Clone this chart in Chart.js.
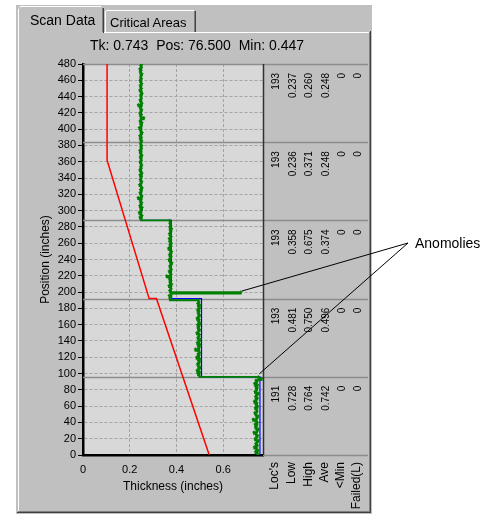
<!DOCTYPE html>
<html>
<head>
<meta charset="utf-8">
<script src="https://cdn.jsdelivr.net/npm/chart.js@4.4.1/dist/chart.umd.min.js"></script>
<style>
  html, body { margin: 0; padding: 0; background: #fff; }
  #wrap { position: relative; width: 480px; height: 516px; overflow: hidden;
          font-family: 'Liberation Sans', Arial, sans-serif; }
  #c { position: absolute; left: 0; top: 0; }
  .lbl { position: absolute; white-space: nowrap; line-height: 1; color: #000; }
</style>
</head>
<body>
<div id="wrap">
  <canvas id="c" width="480" height="516"></canvas>
  <span class="lbl" style="left:30px;top:13px;font-size:14px;">Scan Data</span>
  <span class="lbl" style="left:110px;top:16px;font-size:13px;">Critical Areas</span>
  <span class="lbl" style="left:90px;top:38px;font-size:14px;">Tk: 0.743&nbsp; Pos: 76.500&nbsp; Min: 0.447</span>
  <span class="lbl" style="left:415px;top:236px;font-size:14px;">Anomolies</span>
</div>
<script>
// Scan sampling: one reading every 2 inches inside each zone
const SAMPLE_STEP = 2;
const zoneStarts = [0, 96, 192, 288, 384];
const zoneEnds   = [96, 192, 288, 384, 480];

// Measured wall thickness (inches), one list per zone
const zoneA = [
  0.752,0.745,0.738,0.748,0.741,0.733,0.746,0.739,
  0.744,0.750,0.736,0.742,0.747,0.740,0.731,0.745,
  0.749,0.738,0.743,0.736,0.746,0.741,0.728,0.744,
  0.748,0.739,0.735,0.745,0.742,0.737,0.747,0.740,
  0.744,0.733,0.741,0.746,0.738,0.743,0.750,0.736,
  0.742,0.745,0.739,0.747,0.734,0.744,0.740,0.764];
const zoneB = [
  0.750,0.497,0.492,0.499,0.488,0.495,0.501,0.493,
  0.490,0.498,0.494,0.500,0.486,0.496,0.492,0.499,
  0.495,0.481,0.497,0.493,0.500,0.489,0.496,0.502,
  0.491,0.495,0.498,0.487,0.494,0.499,0.492,0.496,
  0.490,0.501,0.494,0.497,0.488,0.495,0.499,0.493,
  0.496,0.490,0.498,0.494,0.500,0.491,0.496,0.493];
const zoneC = [
  0.372,0.376,0.369,0.378,0.675,0.371,0.377,0.374,
  0.368,0.379,0.372,0.376,0.370,0.375,0.358,0.377,
  0.373,0.369,0.378,0.374,0.371,0.376,0.380,0.372,
  0.368,0.375,0.377,0.370,0.374,0.379,0.373,0.366,
  0.376,0.372,0.378,0.371,0.375,0.369,0.377,0.374,
  0.370,0.376,0.373,0.379,0.371,0.375,0.372,0.374];
const zoneD = [
  0.371,0.249,0.244,0.252,0.246,0.241,0.250,0.247,
  0.253,0.243,0.248,0.251,0.245,0.249,0.236,0.252,
  0.247,0.244,0.250,0.246,0.253,0.248,0.242,0.249,
  0.251,0.245,0.247,0.250,0.244,0.252,0.248,0.243,
  0.249,0.246,0.251,0.247,0.244,0.250,0.248,0.245,
  0.252,0.246,0.249,0.243,0.250,0.247,0.251,0.246];
const zoneE = [
  0.248,0.251,0.245,0.250,0.243,0.249,0.253,0.246,
  0.248,0.241,0.250,0.247,0.252,0.244,0.249,0.260,
  0.246,0.250,0.243,0.248,0.251,0.245,0.249,0.237,
  0.252,0.247,0.244,0.250,0.248,0.246,0.253,0.249,
  0.243,0.250,0.247,0.245,0.251,0.248,0.244,0.250,
  0.246,0.249,0.252,0.245,0.248,0.243,0.250,0.247,
  0.251];
const zoneReadings = [zoneA, zoneB, zoneC, zoneD, zoneE];

// Nominal (filtered) thickness trace
const nominalPos = [0, 96, 96, 192, 192, 288, 288, 480];
const nominalThk = [0.757, 0.757, 0.507, 0.507, 0.378, 0.378, 0.250, 0.250];

// Minimum allowed thickness trace
const minPos = [0, 192, 192, 362, 480];
const minThk = [0.540, 0.314, 0.283, 0.103, 0.103];

// Flagged readings (position, thickness)
const anomalyPos = [200, 96];
const anomalyThk = [0.675, 0.750];

// Zone statistics, bottom zone first
const statLocs   = ['191', '193', '193', '193', '193'];
const statLow    = ['0.728', '0.481', '0.358', '0.236', '0.237'];
const statHigh   = ['0.764', '0.750', '0.675', '0.371', '0.260'];
const statAve    = ['0.742', '0.496', '0.374', '0.248', '0.248'];
const statBelow  = ['0', '0', '0', '0', '0'];
const statFailed = ['0', '0', '0', '0', '0'];
const statHeaders = ["Loc's", 'Low', 'High', 'Ave', '<Min', 'Failed(L)'];

// Axis ranges and tick steps
const thkMin = 0, thkMax = 0.77, thkStep = 0.2;
const posMin = 0, posMax = 480, posStep = 20;

const FONT = "'Liberation Sans', Arial, sans-serif";

// Build point lists
const scanPoints = [];
zoneReadings.forEach((vals, z) => {
  vals.forEach((t, i) => scanPoints.push({ x: t, y: zoneStarts[z] + i * SAMPLE_STEP }));
});
const nominalPoints = nominalPos.map((p, i) => ({ x: nominalThk[i], y: p }));
const minPoints = minPos.map((p, i) => ({ x: minThk[i], y: p }));

// Window / tab-page frame behind the plot
const framePlugin = {
  id: 'frame',
  beforeDraw(chart) {
    const ctx = chart.ctx;
    const a = chart.chartArea;
    ctx.save();
    ctx.fillStyle = '#ffffff';
    ctx.fillRect(0, 0, 480, 516);
    ctx.fillStyle = '#c0c0c0';
    ctx.fillRect(16, 5, 356, 509);

    const line = (x1, y1, x2, y2, c) => {
      ctx.strokeStyle = c; ctx.lineWidth = 1;
      ctx.beginPath(); ctx.moveTo(x1, y1); ctx.lineTo(x2, y2); ctx.stroke();
    };
    // page borders
    line(104, 32.5, 369, 32.5, '#ffffff');
    line(18.5, 33, 18.5, 511, '#ffffff');
    line(369.5, 32, 369.5, 512, '#808080');
    line(370.5, 31, 370.5, 513, '#404040');
    line(18, 511.5, 370, 511.5, '#808080');
    line(17, 512.5, 371, 512.5, '#404040');
    // inactive tab
    line(105.5, 11, 105.5, 32, '#ffffff');
    line(106, 10.5, 194, 10.5, '#ffffff');
    line(194.5, 11, 194.5, 32, '#808080');
    line(195.5, 11, 195.5, 32, '#404040');
    // active tab
    line(18.5, 33, 18.5, 9, '#ffffff');
    line(19, 8.5, 20, 7.5, '#ffffff');
    line(20, 6.5, 101, 6.5, '#ffffff');
    line(102.5, 8, 102.5, 32, '#808080');
    line(103.5, 8, 103.5, 33, '#404040');

    // plot background
    ctx.fillStyle = '#d8d8d8';
    ctx.fillRect(a.left, a.top, a.right - a.left, a.bottom - a.top);
    ctx.restore();
  },
  beforeDatasetsDraw(chart) {
    const ctx = chart.ctx;
    const a = chart.chartArea;
    const y = chart.scales.y;
    ctx.save();
    ctx.strokeStyle = '#8c8c8c';
    ctx.lineWidth = 1.5;
    // zone separators, continuing through the statistics panel
    zoneStarts.concat([posMax]).forEach(p => {
      const py = Math.round(y.getPixelForValue(p)) + 0.5;
      ctx.beginPath();
      ctx.moveTo(p === posMin ? a.right : a.left, py);
      ctx.lineTo(368, py);
      ctx.stroke();
    });
    ctx.restore();
  },
  afterDraw(chart) {
    const ctx = chart.ctx;
    const a = chart.chartArea;
    const xs = chart.scales.x, ys = chart.scales.y;
    ctx.save();
    // right edge of plot
    ctx.strokeStyle = '#303030';
    ctx.lineWidth = 1.5;
    ctx.beginPath();
    ctx.moveTo(a.right + 0.5, a.top);
    ctx.lineTo(a.right + 0.5, a.bottom);
    ctx.stroke();

    // axis titles
    ctx.fillStyle = '#000';
    ctx.font = '12px ' + FONT;
    ctx.textAlign = 'center';
    ctx.textBaseline = 'middle';
    ctx.fillText('Thickness (inches)', (a.left + a.right) / 2, 487);
    ctx.save();
    ctx.translate(46, (a.top + a.bottom) / 2);
    ctx.rotate(-Math.PI / 2);
    ctx.fillText('Position (inches)', 0, 0);
    ctx.restore();

    // statistics panel (rotated text)
    const colX = [276, 293, 309.5, 326, 342, 358];
    const cols = [statLocs, statLow, statHigh, statAve, statBelow, statFailed];
    const drawUp = (txt, x, yTop) => {
      ctx.save();
      ctx.translate(x, yTop);
      ctx.rotate(-Math.PI / 2);
      ctx.textAlign = 'right';
      ctx.textBaseline = 'middle';
      ctx.fillText(txt, 0, 0);
      ctx.restore();
    };
    ctx.font = '10px ' + FONT;
    zoneEnds.forEach((end, z) => {
      const top = ys.getPixelForValue(end) + 9;
      cols.forEach((c, j) => drawUp(c[z], colX[j], top));
    });
    ctx.font = '12px ' + FONT;
    statHeaders.forEach((h, j) => drawUp(h, colX[j] - 1, a.bottom + 7));

    // leader lines from the label to the flagged readings
    const apexX = 408, apexY = 243;
    ctx.strokeStyle = '#000';
    ctx.lineWidth = 1;
    anomalyPos.forEach((p, i) => {
      const px = xs.getPixelForValue(anomalyThk[i]);
      const py = ys.getPixelForValue(p);
      ctx.beginPath();
      ctx.moveTo(apexX, apexY);
      ctx.lineTo(px + 1, py - (i === 1 ? 3 : 1));
      ctx.stroke();
    });
    ctx.restore();
  }
};

new Chart(document.getElementById('c'), {
  type: 'scatter',
  data: {
    datasets: [
      { label: 'Scan', data: scanPoints, showLine: true, borderColor: '#008000',
        backgroundColor: '#008000', borderWidth: 1.8, stepped: 'before',
        pointStyle: 'cross', pointRadius: 1.6, pointBorderWidth: 1 },
      { label: 'Nominal', data: nominalPoints, showLine: true, borderColor: '#0000ff',
        borderWidth: 1.2, pointRadius: 0, tension: 0 },
      { label: 'Minimum', data: minPoints, showLine: true, borderColor: '#ff0000',
        borderWidth: 1.5, pointRadius: 0, tension: 0 }
    ]
  },
  options: {
    responsive: false,
    animation: false,
    devicePixelRatio: 1,
    layout: { padding: { left: 0, top: 64, right: 217, bottom: 0 } },
    plugins: { legend: { display: false }, tooltip: { enabled: false } },
    scales: {
      x: {
        type: 'linear', min: thkMin, max: thkMax,
        afterFit(s) { s.height = 61; },
        ticks: { stepSize: thkStep, includeBounds: false, color: '#000', padding: 3,
                 font: { family: FONT, size: 11 },
                 callback: v => String(+v.toFixed(1)) },
        grid: { color: '#a4a4a4', borderDash: [4, 4], tickLength: 5,
                tickColor: 'rgba(0,0,0,0)', lineWidth: 1 },
        border: { display: true, color: '#000', width: 2.5, dash: [3, 2] }
      },
      y: {
        type: 'linear', min: posMin, max: posMax,
        afterFit(s) { s.width = 83; },
        ticks: { stepSize: posStep, color: '#000', padding: 2,
                 font: { family: FONT, size: 11 } },
        grid: { color: '#a4a4a4', borderDash: [4, 4], tickLength: 5,
                tickColor: '#000', tickBorderDash: [], lineWidth: 1 },
        border: { display: true, color: '#000', width: 2.5, dash: [3, 2] }
      }
    }
  },
  plugins: [framePlugin]
});
</script>
</body>
</html>
